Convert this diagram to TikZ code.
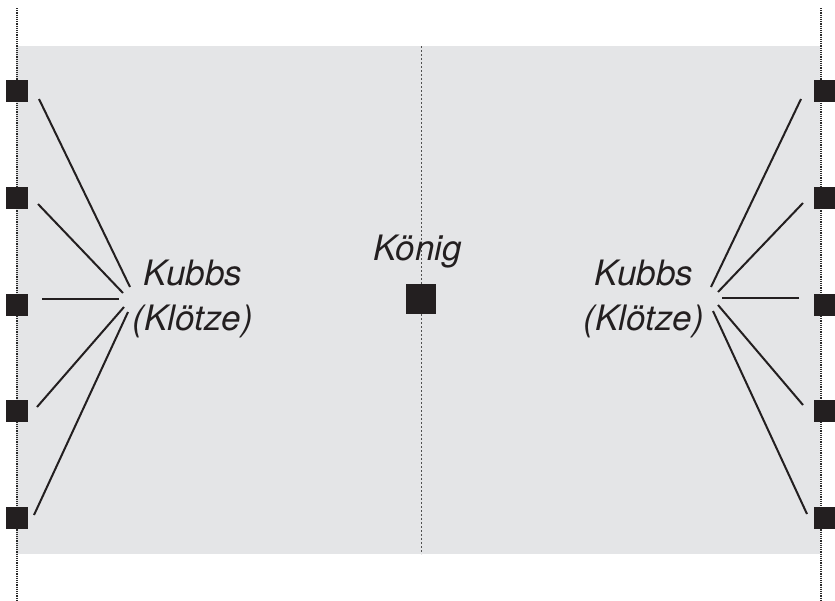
\documentclass[tikz,border=0pt]{standalone}
\usepackage{fontspec}
\setmainfont{TeX Gyre Heros}
\usetikzlibrary{positioning}
\definecolor{FieldGray}{HTML}{E4E5E7}
\definecolor{KubbBlack}{HTML}{231F20}
\definecolor{GuideGray}{HTML}{2A2A2A}
\definecolor{MidGray}{HTML}{505050}

\begin{document}
\begin{tikzpicture}[x=1pt,y=-1pt,
  kubb/.style={fill=KubbBlack,draw=none,inner sep=0pt,minimum size=22pt},
  king/.style={fill=KubbBlack,draw=none,inner sep=0pt,minimum size=30pt},
  leader/.style={line width=2pt,color=KubbBlack},
  baseline guide/.style={line width=1.6pt,color=GuideGray,dash pattern=on 1.2pt off 1pt},
  midline/.style={line width=1pt,color=MidGray,dash pattern=on 2pt off 2pt},
  fieldlabel/.style={inner sep=0pt,align=center,text=KubbBlack,
    font=\fontsize{35}{45}\selectfont\itshape}]
  \useasboundingbox (0,0) rectangle (835,600);
  % playing field
  \fill[FieldGray] (16,46) rectangle (820,554);
  \draw[midline] (421,46) -- (421,554);
  \draw[baseline guide] (17,8) -- (17,600);
  \draw[baseline guide] (821,8) -- (821,600);
  % kubbs on both baselines
  \foreach \i/\y in {1/91,2/198,3/305,4/411,5/518}{
    \node[kubb] (kubbL\i) at (17,\y) {};
    \node[kubb] (kubbR\i) at (825,\y) {};
  }
  \node[king] (king) at (421,299) {};
  \node[fieldlabel,anchor=base] (kingtext) at (418,260) {König};
  \node[fieldlabel] (kubbsL) at (193,299) {Kubbs\\(Klötze)};
  \node[fieldlabel] (kubbsR) at (644,299) {Kubbs\\(Klötze)};
  % leader lines
  \foreach \i/\ax/\ay/\bx/\by in {1/39/99/130/287,2/38/204/123/293,3/42/299/119/299,
      4/37/407/124/307,5/34/515/128/312}{
    \coordinate (aL\i) at (\ax,\ay);
    \coordinate (bL\i) at (\bx,\by);
    \draw[leader] (aL\i) -- (bL\i);
  }
  \foreach \i/\ax/\ay/\bx/\by in {1/801/99/711/287,2/803/203/718/292,3/799/298/722/298,
      4/803/405/718/305,5/807/514/713/311}{
    \coordinate (aR\i) at (\ax,\ay);
    \coordinate (bR\i) at (\bx,\by);
    \draw[leader] (aR\i) -- (bR\i);
  }
\end{tikzpicture}
\end{document}
